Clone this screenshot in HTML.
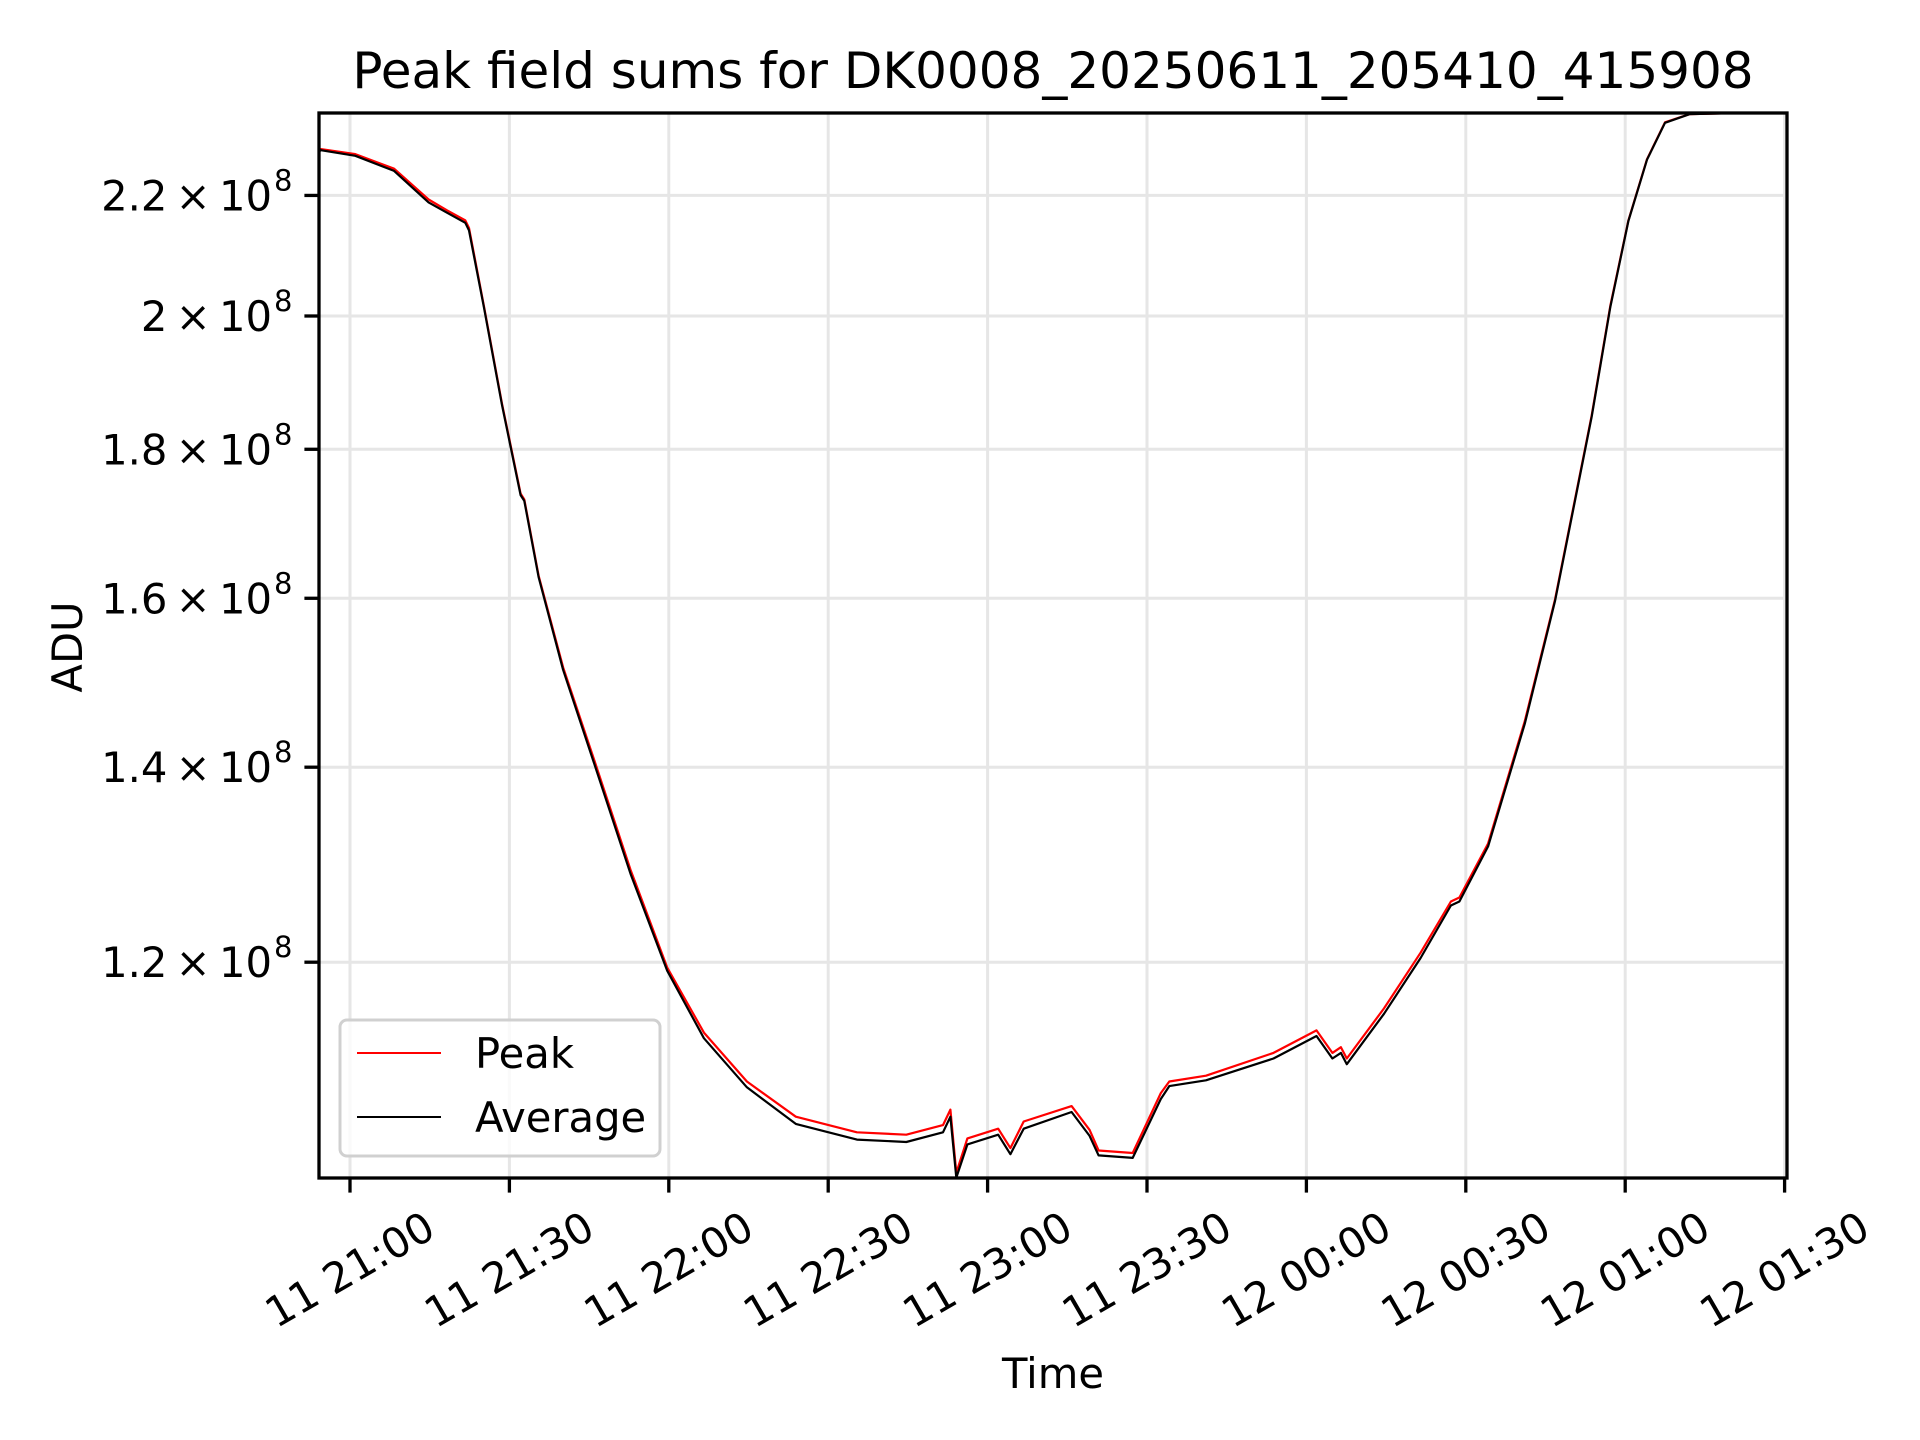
<!DOCTYPE html>
<html><head><meta charset="utf-8"><style>
html,body{margin:0;padding:0;background:#fff}
svg{display:block;font-family:"DejaVu Sans","Liberation Sans",sans-serif}
</style></head><body>
<svg id="chart" width="1920" height="1440" viewBox="0 0 1920 1440" xmlns="http://www.w3.org/2000/svg">
<rect width="1920" height="1440" fill="#fff"/>
<text x="1053" y="88" font-size="50" text-anchor="middle">Peak field sums for DK0008_20250611_205410_415908</text>
<g id="grid"></g><g id="series"></g><g id="axes"></g>
<text x="1053" y="1388" font-size="41.7" text-anchor="middle">Time</text>
<text x="0" y="0" font-size="41.7" text-anchor="middle" transform="translate(82,647) rotate(-90)">ADU</text>
<g>
<rect x="340" y="1020" width="320" height="136" rx="7" fill="#fff" fill-opacity="0.8" stroke="#d0d0d0" stroke-width="3"/>
<line x1="357" y1="1053" x2="441" y2="1053" stroke="#ff0000" stroke-width="2"/>
<text x="475" y="1068" font-size="41.7">Peak</text>
<line x1="357" y1="1117" x2="441" y2="1117" stroke="#000" stroke-width="2"/>
<text x="475" y="1132" font-size="41.7">Average</text>
</g>
</svg>
<script>
// minutes since 11 21:00
const times = [-5.8,-5.5,1.0,8.3,14.8,18.3,21.7,22.4,25.2,28.6,32.1,32.8,35.5,40.1,45.9,52.8,59.7,66.6,74.7,83.9,95.4,104.7,111.6,113.0,114.1,116.2,122.0,124.3,126.8,135.8,139.2,140.9,147.3,152.6,154.2,161.1,173.8,181.9,184.9,186.5,187.6,194.6,201.5,207.2,208.8,214.2,221.1,226.8,233.7,237.2,240.6,244.1,247.5,252.1,260.0,270.5];
// values in units of 1e8 ADU
const peakValues = [2.280,2.282,2.273,2.247,2.193,2.174,2.157,2.144,2.016,1.866,1.738,1.730,1.629,1.515,1.409,1.291,1.195,1.135,1.092,1.062,1.049,1.047,1.055,1.068,1.016,1.044,1.052,1.036,1.058,1.071,1.051,1.034,1.032,1.082,1.092,1.097,1.117,1.137,1.117,1.122,1.112,1.157,1.209,1.259,1.263,1.318,1.452,1.599,1.849,2.016,2.157,2.264,2.331,2.346,2.348,2.349];
const avgValues = [2.278,2.280,2.270,2.243,2.188,2.170,2.153,2.140,2.014,1.864,1.736,1.728,1.627,1.512,1.405,1.287,1.192,1.130,1.087,1.056,1.043,1.041,1.049,1.062,1.012,1.039,1.047,1.031,1.052,1.066,1.046,1.030,1.028,1.077,1.088,1.093,1.112,1.132,1.112,1.117,1.107,1.152,1.204,1.255,1.259,1.315,1.449,1.597,1.847,2.014,2.156,2.263,2.330,2.346,2.348,2.349];
const xTickMinutes = [0,30,60,90,120,150,180,210,240,270];
const xTickLabels = ["11 21:00","11 21:30","11 22:00","11 22:30","11 23:00","11 23:30","12 00:00","12 00:30","12 01:00","12 01:30"];
const yTickValues = [1.2,1.4,1.6,1.8,2.0,2.2];
const yTickLabels = ["1.2","1.4","1.6","1.8","2","2.2"];

const L=319,R=1787,T=113,B=1178;
const xS = m => 350 + m*159.4/30;
const yS = v => 316 + 1265*Math.log(2.0/v);
const NS="http://www.w3.org/2000/svg";
function mk(tag,attrs,parent){const e=document.createElementNS(NS,tag);for(const k in attrs)e.setAttribute(k,attrs[k]);parent.appendChild(e);return e;}
const grid=document.getElementById('grid'),series=document.getElementById('series'),axes=document.getElementById('axes');

xTickMinutes.forEach((m,i)=>{
  const x=xS(m);
  const g=mk('line',{x1:x,y1:T,x2:x,y2:B,stroke:'#e6e6e6','stroke-width':3},grid);
  
  
  const t=mk('line',{x1:x,y1:B,x2:x,y2:B+14.6,stroke:'#000','stroke-width':3.3},axes);
  
  
  const lb=mk('text',{x:0,y:14,'font-size':41.7,'text-anchor':'middle',transform:`translate(${x},${1270}) rotate(-30)`},axes);
  lb.textContent=xTickLabels[i];
  
  
});
yTickValues.forEach((v,i)=>{
  const y=yS(v);
  const g=mk('line',{x1:L,y1:y,x2:R,y2:y,stroke:'#e6e6e6','stroke-width':3},grid);
  
  
  const t=mk('line',{x1:L-14.6,y1:y,x2:L,y2:y,stroke:'#000','stroke-width':3.3},axes);
  
  
  const lb=mk('text',{x:272,y:y+15,'font-size':41.7,'text-anchor':'end'},axes);
  lb.textContent=yTickLabels[i]+'\u2009\u00d7\u200910';
  
  
  const sp=mk('text',{x:274,y:y-5,'font-size':29},axes);
  sp.textContent='8';
  
  
});
function line(vals,color,name){
  const d=times.map((m,i)=>(i?'L':'M')+xS(m).toFixed(1)+','+Math.max(T,yS(vals[i])).toFixed(1)).join(' ');
  const p=mk('path',{d:d,fill:'none',stroke:color,'stroke-width':2.2,'stroke-linejoin':'round'},series);
  
  
}
line(peakValues,'#ff0000','peak-line');
line(avgValues,'#000000','average-line');
const fr=mk('rect',{x:L,y:T,width:R-L,height:B-T,fill:'none',stroke:'#000','stroke-width':3.3},axes);


</script>
</body></html>
